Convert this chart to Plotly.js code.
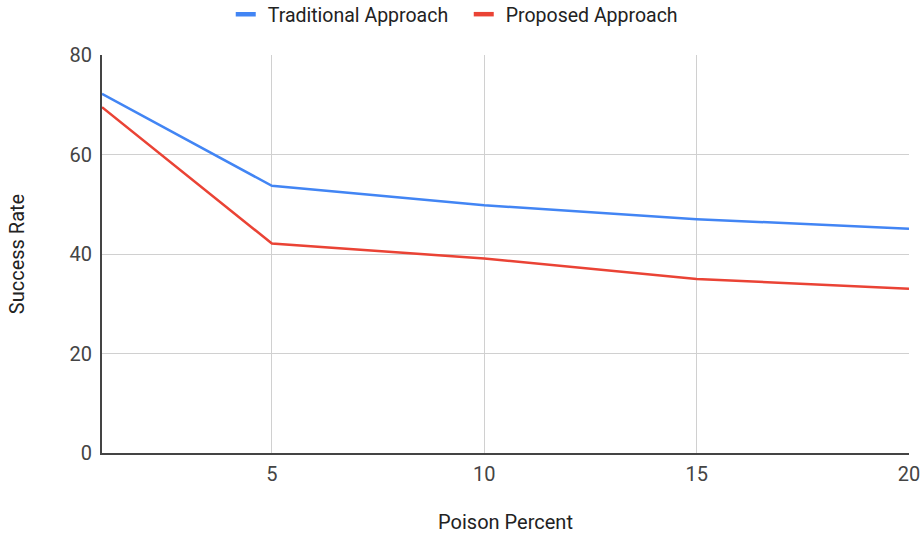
<!DOCTYPE html>
<html>
<head>
<meta charset="utf-8">
<script src="https://cdn.plot.ly/plotly-3.0.1.min.js"></script>
<style>
  html, body { margin: 0; padding: 0; background: #fff; }
  #chart { width: 923px; height: 537px; }
</style>
</head>
<body>
<div id="chart"></div>
<script>
// Attack success rate versus share of poisoned data
const poisonPercent = [1, 5, 10, 15, 20];
const traditionalRate = [72.2, 53.7, 49.8, 47.0, 45.1];
const proposedRate = [69.5, 42.1, 39.1, 35.0, 33.0];
const xTicks = [5, 10, 15, 20];
const yTicks = [0, 20, 40, 60, 80];

const FONT = 'Roboto, Arial, sans-serif';

const traces = [
  {
    x: poisonPercent, y: traditionalRate, type: 'scatter', mode: 'lines',
    name: 'Traditional Approach',
    line: { color: '#4285F4', width: 2.5 }
  },
  {
    x: poisonPercent, y: proposedRate, type: 'scatter', mode: 'lines',
    name: 'Proposed Approach',
    line: { color: '#EA4335', width: 2.5 }
  }
];

const layout = {
  width: 923, height: 537,
  margin: { l: 102, r: 14, t: 55, b: 84 },
  paper_bgcolor: '#fff', plot_bgcolor: '#fff',
  font: { family: FONT, size: 20, color: '#444' },
  showlegend: true,
  legend: {
    orientation: 'h', xref: 'container', yref: 'container',
    x: 0.5046, xanchor: 'center', y: 1.0, yanchor: 'top',
    font: { family: FONT, size: 19.5, color: '#222' },
    itemwidth: 30, entrywidth: 193, entrywidthmode: 'pixels'
  },
  xaxis: {
    range: [1, 20], tickvals: xTicks, ticktext: xTicks.map(String),
    showgrid: true, gridcolor: '#d0d0d0', gridwidth: 1,
    showline: true, linecolor: '#444', linewidth: 2,
    zeroline: false, ticks: '', ticklabelstandoff: 2,
    tickfont: { family: FONT, size: 20, color: '#444' },
    title: { text: 'Poison Percent', font: { family: FONT, size: 20, color: '#222' }, standoff: 30 }
  },
  yaxis: {
    range: [0, 80], tickvals: yTicks, ticktext: yTicks.map(String),
    showgrid: true, gridcolor: '#d0d0d0', gridwidth: 1,
    showline: true, linecolor: '#444', linewidth: 2,
    zeroline: false, ticks: '', ticklabelstandoff: 4,
    tickfont: { family: FONT, size: 20, color: '#444' },
    title: { text: 'Success Rate', font: { family: FONT, size: 20, color: '#222' }, standoff: 40 }
  }
};

Plotly.newPlot('chart', traces, layout, { displayModeBar: false, staticPlot: true }).then(function (gd) {
  // Short, thick legend swatches in the Sheets style
  gd.querySelectorAll('.legend .legendlines path').forEach(function (p) {
    p.setAttribute('d', 'M8,0h20');
    p.style.strokeWidth = '4.5px';
  });
  // Nudge the legend row a little closer to the top edge
  const leg = gd.querySelector('.legend');
  if (leg) {
    const m = /translate\(([-\d.]+),\s*([-\d.]+)\)/.exec(leg.getAttribute('transform') || '');
    if (m) leg.setAttribute('transform', 'translate(' + m[1] + ',' + (parseFloat(m[2]) - 5) + ')');
  }
});
</script>
</body>
</html>
